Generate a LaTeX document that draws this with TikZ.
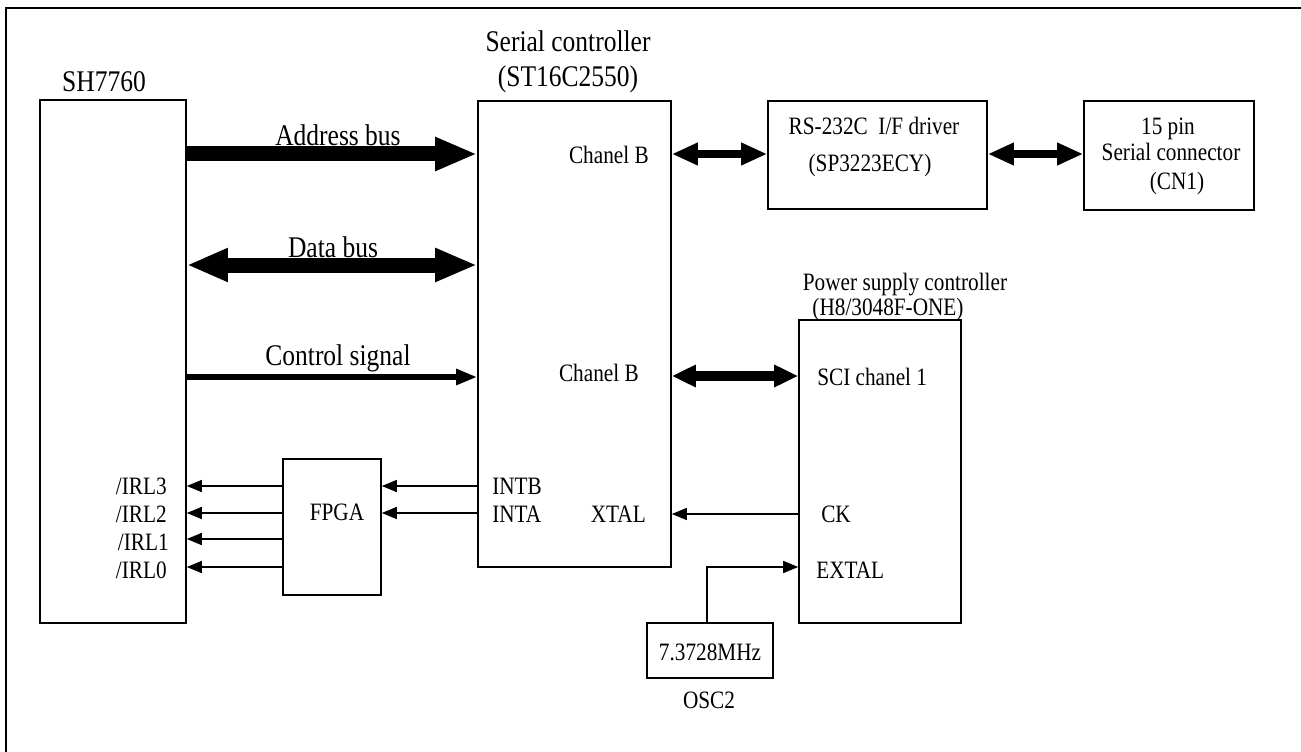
\documentclass[tikz,border=0pt]{standalone}
\usepackage{fontspec}
\setmainfont{Liberation Serif}[FakeStretch=0.85]
\usetikzlibrary{arrows.meta,fit}
\begin{document}
\begin{tikzpicture}[x=0.75pt,y=-0.75pt,
  box/.style={draw, line width=1.2pt, inner sep=0pt},
  big/.style={inner sep=0pt, font=\fontsize{22.5}{27}\selectfont},
  small/.style={inner sep=0pt, font=\fontsize{18.75}{22}\selectfont},
  abus/.style={line width=11.25pt, -{Triangle[length=31.5pt,width=23.25pt]}},
  dbus/.style={line width=11.25pt, {Triangle[length=30.75pt,width=23.25pt]}-{Triangle[length=31.5pt,width=23.25pt]}},
  chan/.style={line width=6pt, {Triangle[length=19.5pt,width=15.75pt]}-{Triangle[length=19.5pt,width=15.75pt]}},
  scil/.style={line width=7.5pt, {Triangle[length=18pt,width=15.75pt]}-{Triangle[length=18pt,width=15.75pt]}},
  ctrl/.style={line width=4.5pt, -{Triangle[length=15.75pt,width=11.25pt]}},
  sig/.style={line width=1.1pt, -{Triangle[length=11.25pt,width=9pt]}}
]
\useasboundingbox (0,0) rectangle (1301,752);
% outer frame (top and left only)
\draw[line width=1.5pt] (6,752) -- (6,8) -- (1301,8);

% boxes
\node[box, fit={(40,100) (186,623)}] (sh) {};
\node[box, fit={(478,101) (671,567)}] (sc) {};
\node[box, fit={(768,101) (987,209)}] (rs) {};
\node[box, fit={(1084,101) (1254,210)}] (cn) {};
\node[box, fit={(799,320) (961,623)}] (ps) {};
\node[box, fit={(283,459) (381,595)}] (fpga) {};
\node[box, fit={(647,623) (773,678)}] (osc) {};

% titles
\node[big, anchor=base] (tsh) at (104,92) {SH7760};
\node[big, anchor=base] (tsc1) at (568,52) {Serial controller};
\node[big, anchor=base] (tsc2) at (568,87) {(ST16C2550)};
\node[small, anchor=base] (trs1) at (874,135) {RS-232C\ \ I/F driver};
\node[small, anchor=base] (trs2) at (870,172) {(SP3223ECY)};
\node[small, anchor=base] (tcn1) at (1168,135) {15 pin};
\node[small, anchor=base] (tcn2) at (1171,161) {Serial connector};
\node[small, anchor=base] (tcn3) at (1177,190) {(CN1)};
\node[small, anchor=base] (tps1) at (905,290) {Power supply controller};
\node[small, anchor=base] (tps2) at (888,315) {(H8/3048F-ONE)};
\node[small, anchor=base] (tfp) at (337,520) {FPGA};
\node[small, anchor=base] (tosc) at (710,660) {7.3728MHz};
\node[small, anchor=base] (tosc2) at (709,708) {OSC2};

% pin labels
\node[small, anchor=base east] (i3) at (167,494) {/IRL3};
\node[small, anchor=base east] (i2) at (167,522) {/IRL2};
\node[small, anchor=base east] (i1) at (169,550) {/IRL1};
\node[small, anchor=base east] (i0) at (167,578) {/IRL0};
\node[small, anchor=base east] (cb1) at (649,164) {Chanel B};
\node[small, anchor=base east] (cb2) at (639,381) {Chanel B};
\node[small, anchor=base west] (intb) at (492,494) {INTB};
\node[small, anchor=base west] (inta) at (492,522) {INTA};
\node[small, anchor=base east] (xtal) at (646,522) {XTAL};
\node[small, anchor=base west] (sci) at (817,385) {SCI chanel 1};
\node[small, anchor=base west] (ck) at (821,522) {CK};
\node[small, anchor=base west] (extal) at (816,578) {EXTAL};

% bus labels
\node[big, anchor=base] (lab) at (338,146) {Address bus};
\node[big, anchor=base] (ldb) at (333,257) {Data bus};
\node[big, anchor=base] (lcs) at (338,365) {Control signal};

% connectors
\draw[abus] (sh.east |- 0,154) -- (sc.west |- 0,154);
\draw[dbus] (sh.east |- 0,265) -- (sc.west |- 0,265);
\draw[ctrl] (sh.east |- 0,377) -- (sc.west |- 0,377);
\draw[chan] (sc.east |- 0,154) -- (rs.west |- 0,154);
\draw[chan] (rs.east |- 0,154) -- (cn.west |- 0,154);
\draw[scil] (sc.east |- 0,376) -- (ps.west |- 0,376);
\draw[sig] (fpga.west |- 0,486) -- (sh.east |- 0,486);
\draw[sig] (fpga.west |- 0,513) -- (sh.east |- 0,513);
\draw[sig] (fpga.west |- 0,539) -- (sh.east |- 0,539);
\draw[sig] (fpga.west |- 0,567) -- (sh.east |- 0,567);
\draw[sig] (sc.west |- 0,486) -- (fpga.east |- 0,486);
\draw[sig] (sc.west |- 0,513) -- (fpga.east |- 0,513);
\draw[sig] (ps.west |- 0,514) -- (sc.east |- 0,514);
\draw[sig] (osc.north -| 707,0) |- (ps.west |- 0,567);
\end{tikzpicture}
\end{document}
